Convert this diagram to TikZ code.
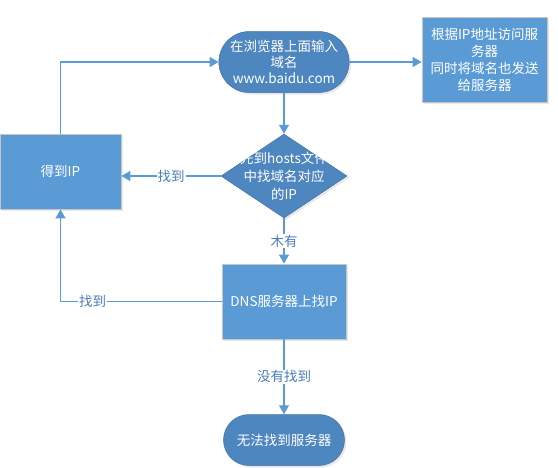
\documentclass[tikz,border=0pt]{standalone}
\usepackage{fontspec}
\setmainfont{Noto Sans CJK SC}
\usetikzlibrary{arrows.meta,shapes.geometric,shapes.misc,shadows}
\definecolor{rectblue}{HTML}{5B9BD5}
\definecolor{darkblue}{HTML}{4E86C0}
\definecolor{lineblue}{HTML}{5B9BD5}
\definecolor{labelblue}{HTML}{4A7EBB}
\begin{document}
\begin{tikzpicture}[x=1pt,y=-1pt,
  font=\fontsize{13.5}{17}\selectfont,
  shad/.style={drop shadow={opacity=0.18,shadow xshift=2pt,shadow yshift=-2pt}},
  box/.style={rectangle,fill=rectblue,draw=gray!45,line width=0.8pt,text=white,
    align=center,inner sep=2pt,shad},
  term/.style={rounded rectangle,fill=darkblue,draw=darkblue!85!black,line width=0.5pt,
    text=white,align=center,inner sep=2pt,shad},
  dia/.style={diamond,fill=darkblue,draw=darkblue!85!black,line width=0.5pt,inner sep=0pt,
    minimum width=126pt,minimum height=84pt,shad},
  conn/.style={draw=lineblue,line width=1.3pt,-{Triangle[length=9pt,width=10pt]}},
  lbl/.style={fill=white,text=labelblue,inner sep=1pt}]
\useasboundingbox (0,0) rectangle (558,467);

\node[term,minimum width=126pt,minimum height=61pt,font=\fontsize{13.5}{16}\selectfont] (t) at (284,62)
  {在浏览器上面输入\\域名\\www.baidu.com};
\node[box,minimum width=125pt,minimum height=85pt] (r) at (484.5,59.5)
  {根据IP地址访问服\\务器\\同时将域名也发送\\给服务器};
\node[dia] (d) at (284,176) {};
\node[text=white,align=center,inner sep=0pt,font=\fontsize{13.5}{18}\selectfont] (dt) at (d.center)
  {先到hosts文件\\中找域名对应\\的IP};
\node[box,minimum width=121pt,minimum height=75pt] (g) at (60.5,171.5) {得到IP};
\node[box,minimum width=124pt,minimum height=75pt] (n) at (284,301.5) {DNS服务器上找IP};
\node[term,minimum width=125pt,minimum height=51pt] (e) at (284,440) {无法找到服务器};

\draw[conn] (t.east) -- (t.east -| r.west);
\draw[conn] (t.south) -- (d.north);
\draw[conn] (d.west) -- (d.west -| g.east) node[lbl,midway] {找到};
\draw[conn] (g.north) |- (t.west);
\draw[conn] (d.south) -- (n.north) node[lbl,midway] {木有};
\draw[conn] (n.west) -| (g.south) node[lbl,pos=0.4] {找到};
\draw[conn] (n.south) -- (e.north) node[lbl,midway] {没有找到};
\end{tikzpicture}
\end{document}
